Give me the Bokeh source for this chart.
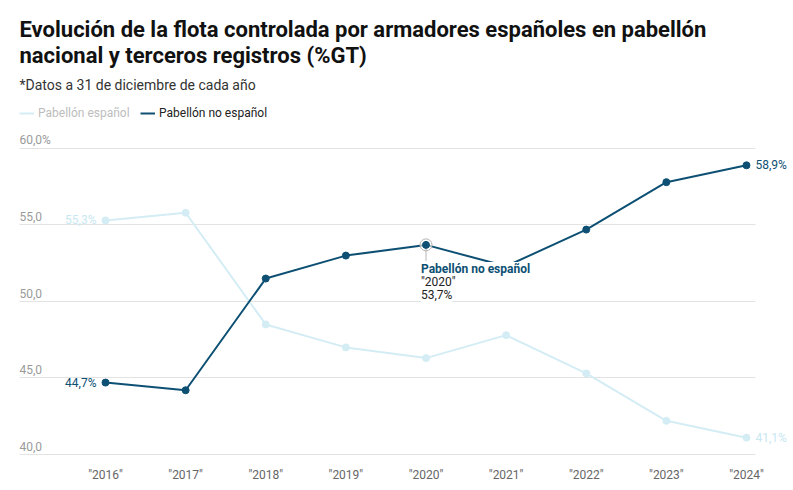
import math
from bokeh.plotting import figure
from bokeh.models import (Range1d, FixedTicker, LinearAxis, Label, Legend,
                          LegendItem, Grid, ColumnDataSource)
from bokeh.core.properties import value
from bokeh.embed import file_html
from bokeh.resources import INLINE

# ---------------- data ----------------
years = ["2016", "2017", "2018", "2019", "2020", "2021", "2022", "2023", "2024"]
espanol = [55.3, 55.8, 48.5, 47.0, 46.3, 47.8, 45.3, 42.2, 41.1]
no_espanol = [44.7, 44.2, 51.5, 53.0, 53.7, 52.3, 54.7, 57.8, 58.9]
series_names = ["Pabellón español", "Pabellón no español"]
y_ticks = [40, 45, 50, 55, 60]
y_tick_labels = ["40,0", "45,0", "50,0", "55,0", "60,0%"]
x_tick_labels = ['"%s"' % y for y in years]
title_lines = ["Evolución de la flota controlada por armadores españoles en pabellón",
               "nacional y terceros registros (%GT)"]
subtitle = "*Datos a 31 de diciembre de cada año"
highlight_year = "2020"

# ---------------- style ----------------
FONT = "Roboto"
C_DARK = "#0d5073"
C_LIGHT = "#d4edf5"
C_LIGHT_TXT = "#c9e7f1"
C_GRID = "#e3e3e3"
GRID_X0, GRID_X1 = -1.0733, 8.1123


def fmt(v):
    return ("%.1f" % v).replace(".", ",") + "%"


xs = list(range(len(years)))
src = ColumnDataSource(dict(x=xs, es=espanol, ne=no_espanol))

W, H = 793, 490
p = figure(width=W, height=H, output_backend="svg", toolbar_location=None,
           title=None,
           x_range=Range1d(-1.3105, 8.5866), y_range=Range1d(39.869, 69.673),
           min_border_left=0, min_border_right=0,
           min_border_top=0, min_border_bottom=34,
           x_axis_type=None, y_axis_type=None)
p.outline_line_color = None
p.background_fill_color = "white"
p.border_fill_color = "white"

# grid (horizontal lines limited to the plotting band)
if "cross_bounds" in Grid.properties():
    p.add_layout(Grid(dimension=1, ticker=FixedTicker(ticks=y_ticks),
                      cross_bounds=(GRID_X0, GRID_X1),
                      grid_line_color=C_GRID, grid_line_width=1))
else:
    p.segment(x0=[GRID_X0] * len(y_ticks), y0=y_ticks,
              x1=[GRID_X1] * len(y_ticks), y1=y_ticks,
              line_color=C_GRID, line_width=1)

# x axis
xaxis = LinearAxis(ticker=FixedTicker(ticks=xs),
                   major_label_overrides={i: t for i, t in zip(xs, x_tick_labels)},
                   axis_line_color=None, major_tick_line_color=None,
                   minor_tick_line_color=None, major_label_standoff=5,
                   major_label_text_font=FONT, major_label_text_font_size="12px",
                   major_label_text_color="#666666")
p.add_layout(xaxis, "below")

# y labels (inside plot, above gridlines)
p.text(x=[GRID_X0] * len(y_ticks), y=y_ticks, text=y_tick_labels,
       text_font=value(FONT), text_font_size="12px", text_color="#9a9a9a",
       text_align="left", text_baseline="alphabetic", y_offset=-8)

# series
r_es = p.line("x", "es", source=src, line_color=C_LIGHT, line_width=2)
p.scatter("x", "es", source=src, size=7, fill_color=C_LIGHT, line_color=C_LIGHT)
r_ne = p.line("x", "ne", source=src, line_color=C_DARK, line_width=2)

hi = years.index(highlight_year)
p.scatter(x=[hi], y=[no_espanol[hi]], size=12, fill_color="white", fill_alpha=0.6,
          line_color="#b5b5b5", line_width=1)
p.ray(x=[hi], y=[no_espanol[hi]], length=16, length_units="screen",
      angle=-math.pi / 2, line_color="#b5b5b5", line_width=1)
p.scatter("x", "ne", source=src, size=7, fill_color=C_DARK, line_color=C_DARK)

# end labels
for xi, v, col, align, off in [
        (0, espanol[0], C_LIGHT_TXT, "right", -9),
        (0, no_espanol[0], C_DARK, "right", -9),
        (xs[-1], espanol[-1], C_LIGHT_TXT, "left", 9),
        (xs[-1], no_espanol[-1], C_DARK, "left", 9)]:
    p.add_layout(Label(x=xi, y=v, text=fmt(v), x_offset=off, text_align=align,
                       text_baseline="middle", text_font=FONT,
                       text_font_size="12px", text_color=col))

# tooltip-like annotation at highlighted point
p.text(x=[hi], y=[no_espanol[hi]], text=[series_names[1]], x_offset=-5, y_offset=24,
       text_font=value(FONT), text_font_size="12px", text_font_style="bold",
       text_color=C_DARK, text_baseline="alphabetic", text_align="left",
       background_fill_color="white", padding=0)
p.text(x=[hi, hi], y=[no_espanol[hi]] * 2,
       text=['"%s"' % highlight_year, fmt(no_espanol[hi])],
       x_offset=-5, y_offset=[37, 50],
       text_font=value(FONT), text_font_size="12px", text_color="#222222",
       text_baseline="alphabetic", text_align="left",
       background_fill_color="white", padding=0)

# titles
p.add_layout(Label(x=19, y=427, x_units="screen", y_units="screen", text=title_lines[0],
                   text_font=FONT, text_font_size="22px", text_font_style="bold",
                   text_color="#111111", text_baseline="alphabetic"))
p.add_layout(Label(x=19, y=401.5, x_units="screen", y_units="screen", text=title_lines[1],
                   text_font=FONT, text_font_size="22px", text_font_style="bold",
                   text_color="#111111", text_baseline="alphabetic"))
p.add_layout(Label(x=19, y=372, x_units="screen", y_units="screen", text=subtitle,
                   text_font=FONT, text_font_size="14px",
                   text_color="#333333", text_baseline="alphabetic"))

# legends
def make_legend(name, rend, x, color):
    return Legend(items=[LegendItem(label=name, renderers=[rend])],
                  location=(x, 336), orientation="horizontal",
                  padding=0, margin=0, spacing=0, glyph_width=15, glyph_height=12,
                  label_standoff=4, label_height=12, label_width=10,
                  label_text_font=FONT, label_text_font_size="12px",
                  label_text_color=color, border_line_color=None,
                  background_fill_alpha=0)

p.add_layout(make_legend(series_names[0], r_es, 19, "#bdbdbd"), "center")
p.add_layout(make_legend(series_names[1], r_ne, 140, "#222222"), "center")

open("out.html", "w").write(file_html(p, INLINE))
